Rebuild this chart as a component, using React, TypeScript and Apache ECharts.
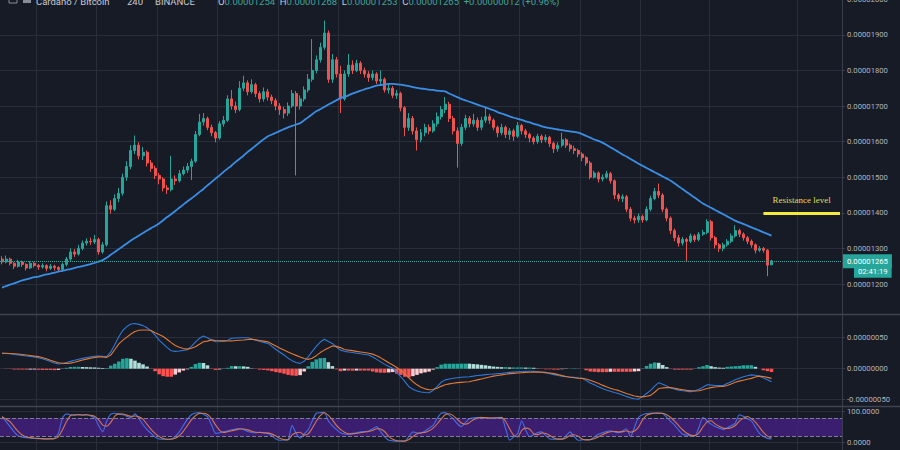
import React, { useEffect, useRef } from 'react';
import * as echarts from 'echarts';

// ---- Price data (units of 1e-8 BTC), 4h candles ----
const opens = [
  1270, 1262, 1270, 1258, 1250, 1262, 1255, 1245, 1258, 1252,
  1248, 1252, 1244, 1250, 1246, 1241, 1255, 1270, 1290, 1284,
  1300, 1315, 1320, 1318, 1325, 1290, 1310, 1420, 1410, 1440,
  1455, 1500, 1530, 1575, 1590, 1560, 1570, 1540, 1525, 1505,
  1495, 1470, 1465, 1495, 1490, 1510, 1520, 1530, 1545, 1620,
  1655, 1665, 1640, 1625, 1610, 1650, 1660, 1720, 1700, 1690,
  1750, 1765, 1740, 1760, 1735, 1720, 1740, 1725, 1715, 1700,
  1690, 1680, 1700, 1735, 1700, 1720, 1745, 1775, 1800, 1830,
  1865, 1905, 1775, 1830, 1790, 1720, 1790, 1815, 1800, 1820,
  1800, 1790, 1780, 1790, 1770, 1775, 1745, 1750, 1730, 1735,
  1695, 1640, 1665, 1630, 1605, 1625, 1640, 1630, 1650, 1670,
  1690, 1705, 1665, 1630, 1595, 1640, 1665, 1650, 1660, 1640,
  1660, 1670, 1660, 1640, 1625, 1640, 1620, 1630, 1615, 1645,
  1630, 1620, 1610, 1600, 1615, 1605, 1612, 1595, 1580, 1590,
  1605, 1590, 1580, 1575, 1565, 1555, 1540, 1500, 1512, 1495,
  1500, 1510, 1490, 1450, 1440, 1445, 1410, 1385, 1380, 1390,
  1380, 1410, 1440, 1460, 1450, 1410, 1385, 1350, 1330, 1315,
  1325, 1320, 1335, 1325, 1340, 1345, 1375, 1330, 1310, 1300,
  1310, 1320, 1335, 1350, 1340, 1330, 1320, 1310, 1295, 1300,
  1295, 1254,
];
const closes = [
  1262, 1270, 1258, 1250, 1262, 1255, 1245, 1258, 1252, 1248,
  1252, 1244, 1250, 1246, 1241, 1255, 1270, 1290, 1284, 1300,
  1315, 1320, 1318, 1325, 1290, 1310, 1420, 1410, 1440, 1455,
  1500, 1530, 1575, 1590, 1560, 1570, 1540, 1525, 1505, 1495,
  1470, 1465, 1495, 1490, 1510, 1520, 1530, 1545, 1620, 1655,
  1665, 1640, 1625, 1610, 1650, 1660, 1720, 1700, 1690, 1750,
  1765, 1740, 1760, 1735, 1720, 1740, 1725, 1715, 1700, 1690,
  1680, 1700, 1735, 1700, 1720, 1745, 1775, 1800, 1830, 1865,
  1905, 1775, 1830, 1790, 1720, 1790, 1815, 1800, 1820, 1800,
  1790, 1780, 1790, 1770, 1775, 1745, 1750, 1730, 1735, 1695,
  1640, 1665, 1630, 1605, 1625, 1640, 1630, 1650, 1670, 1690,
  1705, 1665, 1630, 1595, 1640, 1665, 1650, 1660, 1640, 1660,
  1670, 1660, 1640, 1625, 1640, 1620, 1630, 1615, 1645, 1630,
  1620, 1610, 1600, 1615, 1605, 1612, 1595, 1580, 1590, 1605,
  1590, 1580, 1575, 1565, 1555, 1540, 1500, 1512, 1495, 1500,
  1510, 1490, 1450, 1440, 1445, 1410, 1385, 1380, 1390, 1380,
  1410, 1440, 1460, 1450, 1410, 1385, 1350, 1330, 1315, 1325,
  1320, 1335, 1325, 1340, 1345, 1375, 1330, 1310, 1300, 1310,
  1320, 1335, 1350, 1340, 1330, 1320, 1310, 1295, 1300, 1295,
  1253, 1265,
];
const highs = [
  1278, 1280, 1274, 1262, 1268, 1266, 1258, 1264, 1262, 1256,
  1258, 1255, 1256, 1254, 1250, 1260, 1276, 1300, 1298, 1310,
  1322, 1328, 1330, 1338, 1330, 1318, 1432, 1435, 1452, 1470,
  1510, 1545, 1590, 1617, 1598, 1585, 1575, 1548, 1532, 1512,
  1500, 1478, 1560, 1505, 1520, 1530, 1540, 1552, 1630, 1678,
  1680, 1670, 1648, 1630, 1658, 1672, 1730, 1745, 1712, 1770,
  1785, 1772, 1775, 1765, 1742, 1752, 1748, 1732, 1722, 1708,
  1698, 1710, 1745, 1742, 1730, 1755, 1790, 1888, 1842, 1878,
  1940, 1912, 1846, 1838, 1813, 1800, 1846, 1828, 1830, 1826,
  1808, 1798, 1800, 1795, 1800, 1780, 1762, 1756, 1745, 1740,
  1700, 1680, 1672, 1640, 1635, 1650, 1648, 1660, 1682, 1700,
  1725, 1712, 1672, 1640, 1650, 1675, 1672, 1678, 1668, 1670,
  1695, 1678, 1665, 1645, 1650, 1645, 1638, 1636, 1655, 1650,
  1636, 1625, 1615, 1622, 1620, 1620, 1616, 1600, 1598, 1625,
  1610, 1595, 1588, 1580, 1570, 1560, 1546, 1518, 1516, 1508,
  1518, 1515, 1494, 1455, 1452, 1450, 1416, 1392, 1398, 1395,
  1418, 1448, 1470, 1482, 1455, 1415, 1390, 1356, 1338, 1332,
  1330, 1342, 1340, 1346, 1352, 1382, 1380, 1335, 1315, 1316,
  1326, 1342, 1365, 1355, 1345, 1335, 1325, 1314, 1306, 1304,
  1298, 1268,
];
const lows = [
  1255, 1258, 1252, 1242, 1246, 1248, 1238, 1242, 1246, 1240,
  1243, 1236, 1240, 1238, 1234, 1238, 1250, 1265, 1276, 1280,
  1295, 1308, 1310, 1312, 1282, 1285, 1305, 1398, 1405, 1430,
  1448, 1490, 1522, 1565, 1550, 1548, 1530, 1515, 1495, 1480,
  1460, 1453, 1460, 1478, 1485, 1505, 1512, 1492, 1540, 1615,
  1645, 1632, 1615, 1598, 1605, 1642, 1655, 1690, 1680, 1685,
  1742, 1730, 1735, 1725, 1710, 1712, 1715, 1705, 1688, 1675,
  1665, 1672, 1695, 1505, 1690, 1712, 1738, 1768, 1792, 1822,
  1858, 1765, 1765, 1780, 1680, 1715, 1782, 1790, 1795, 1790,
  1780, 1768, 1772, 1762, 1762, 1738, 1735, 1722, 1720, 1685,
  1615, 1630, 1620, 1575, 1598, 1615, 1620, 1625, 1642, 1662,
  1680, 1655, 1620, 1527, 1588, 1632, 1640, 1642, 1630, 1632,
  1652, 1650, 1632, 1612, 1618, 1610, 1605, 1602, 1610, 1620,
  1610, 1598, 1592, 1594, 1596, 1598, 1585, 1568, 1572, 1584,
  1582, 1572, 1565, 1556, 1545, 1532, 1494, 1496, 1485, 1488,
  1495, 1482, 1438, 1432, 1430, 1402, 1376, 1370, 1372, 1372,
  1376, 1404, 1435, 1442, 1402, 1376, 1340, 1320, 1305, 1308,
  1262, 1315, 1318, 1320, 1335, 1340, 1322, 1300, 1290, 1292,
  1305, 1315, 1330, 1332, 1322, 1312, 1302, 1286, 1290, 1288,
  1222, 1253,
];
// Blue moving average
const movingAvg = [
  1190, 1194, 1198, 1202, 1206, 1210, 1213, 1216, 1219, 1221,
  1224, 1227, 1229, 1232, 1235, 1237, 1240, 1242, 1245, 1248,
  1250, 1253, 1256, 1259, 1263, 1267, 1274, 1282, 1290, 1298,
  1306, 1314, 1322, 1329, 1336, 1343, 1350, 1357, 1363, 1370,
  1379, 1388, 1396, 1405, 1414, 1423, 1432, 1440, 1449, 1458,
  1467, 1477, 1486, 1496, 1505, 1515, 1524, 1533, 1543, 1552,
  1561, 1571, 1580, 1589, 1598, 1607, 1615, 1620, 1625, 1630,
  1635, 1640, 1644, 1648, 1652, 1660, 1668, 1677, 1685, 1691,
  1697, 1704, 1710, 1716, 1722, 1726, 1730, 1735, 1739, 1743,
  1747, 1750, 1754, 1757, 1759, 1761, 1762, 1762, 1761, 1760,
  1758, 1756, 1753, 1751, 1749, 1748, 1746, 1745, 1743, 1742,
  1741, 1735, 1730, 1725, 1720, 1716, 1712, 1708, 1704, 1700,
  1696, 1692, 1688, 1683, 1679, 1675, 1671, 1667, 1664, 1661,
  1657, 1654, 1650, 1647, 1643, 1640, 1638, 1636, 1634, 1632,
  1630, 1629, 1627, 1625, 1621, 1616, 1611, 1606, 1602, 1597,
  1591, 1584, 1578, 1571, 1564, 1558, 1551, 1545, 1538, 1532,
  1526, 1520, 1514, 1508, 1502, 1496, 1490, 1482, 1474, 1466,
  1458, 1450, 1442, 1434, 1426, 1420, 1414, 1408, 1402, 1396,
  1390, 1384, 1378, 1373, 1369, 1364, 1359, 1355, 1350, 1345,
  1341, 1336,
];
// MACD (units of 1e-8)
const macdLine = [
  25, 24.5, 24, 23, 22.3, 21.5, 20.6, 19.8, 19, 17.8,
  16, 14, 11.5, 9.2, 7.6, 8.5, 10, 11.8, 13.5, 15.2,
  16.7, 18, 19.2, 20.2, 20.5, 19.9, 19.4, 27, 39, 51.6,
  62, 68, 72, 73, 71.5, 69.5, 66, 61, 54, 46,
  40, 34, 29, 28, 28.5, 29.5, 30.6, 36, 43, 49,
  52.7, 50, 46, 43.5, 43.8, 44.5, 46, 49, 49.5, 50,
  50, 50, 48, 46, 44, 42.5, 40.8, 36, 31, 26.5,
  22, 17, 13, 10, 8.6, 12, 19, 28, 36, 43,
  47.4, 44, 40.8, 35, 30, 28, 27, 26, 25, 24,
  23, 22, 19, 15, 11, 7, 3.5, 0.6, -6, -13,
  -21, -29, -33, -36, -37.5, -38.5, -38.7, -35, -29, -22,
  -18, -16.5, -15.5, -14.5, -13.8, -13.3, -12.9, -12, -11, -10.3,
  -9.5, -9, -8.5, -8, -7.5, -6.5, -6, -5.5, -5, -4.5,
  -4.2, -4, -4, -5, -6, -7, -8, -9.5, -11, -12,
  -13, -13.5, -14, -15, -15.6, -19, -23, -26, -29, -32,
  -34.5, -36.5, -38.5, -40, -42.5, -45, -47, -48.5, -49, -45,
  -40, -35, -28, -22.5, -25, -28, -31, -33, -34.5, -35.5,
  -36.5, -37, -35.5, -33, -30, -26, -26.5, -27, -27, -27,
  -24, -21, -18, -15.5, -13, -11.5, -10, -10.5, -12, -15,
  -18, -21,
];
const signalLine = [
  25, 24.8, 24.6, 24.2, 23.6, 22.9, 22.1, 21.2, 20.3, 19.5,
  18, 16, 13.5, 11.5, 9.5, 8.8, 8.6, 9, 10.5, 12.2,
  14, 15.5, 17, 18.2, 19, 18.8, 18.3, 22, 31, 40,
  46, 51, 56, 60, 62, 62.5, 62.5, 61.5, 58, 55,
  52, 47, 42, 37.5, 34.5, 32.5, 31.6, 33, 35.5, 39.5,
  43.5, 44.5, 46.5, 45.5, 45, 44.8, 44.6, 44.8, 45.5, 46,
  46.3, 47, 47.5, 46.5, 45.5, 44.5, 43.5, 40, 36.5, 33,
  30, 27, 24, 21.5, 19, 16.5, 15, 17, 21, 26,
  30, 33.5, 36.6, 36, 34, 31, 30, 29.2, 28, 27,
  26, 25, 23.5, 21, 17.5, 13.5, 9.5, 6, 2, -3,
  -8, -15, -21, -26, -30, -32.5, -34, -33.5, -31.5, -28.5,
  -26, -24.5, -23.5, -22.5, -22, -21.5, -21, -19.5, -18, -16.5,
  -15, -13.5, -12, -11, -10, -9, -8, -7.5, -7, -6.5,
  -6, -5.8, -5.5, -5.4, -5.6, -6, -7, -8, -9.5, -11.2,
  -12.5, -13.8, -14.6, -15.2, -15.6, -16.5, -18.5, -21, -23.5, -26.5,
  -29, -31.5, -33.5, -35, -37.5, -40, -42, -44, -45, -45.5,
  -44.5, -43, -38, -32, -31, -30.5, -30.5, -31.5, -33, -34,
  -35, -35.5, -36, -35.5, -34, -32, -30.5, -29.5, -28.8, -28.5,
  -27, -24.5, -22, -20, -18.5, -17, -15.6, -13.5, -12, -12.5,
  -14, -15.6,
];
// Stochastic %K
const stochK = [
  84, 68, 52, 35, 22, 18, 16, 15, 14, 13,
  12, 12, 13, 14, 30, 80, 93, 90, 88, 91,
  89, 90, 86, 80, 55, 35, 70, 92, 95, 92,
  90, 85, 80, 93, 77, 58, 42, 30, 18, 12,
  11, 11, 12, 20, 35, 55, 75, 90, 96, 97,
  92, 84, 58, 30, 32, 36, 38, 42, 44, 46,
  42, 36, 33, 32, 34, 31, 30, 22, 12, 8,
  9, 10, 56, 30, 15, 28, 42, 70, 95, 97,
  98, 70, 55, 42, 32, 28, 27, 30, 32, 35,
  36, 38, 45, 52, 35, 19, 8, 6, 5, 5,
  5, 20, 35, 32, 30, 38, 47, 56, 78, 95,
  97, 88, 77, 62, 52, 65, 77, 80, 81, 82,
  80, 78, 80, 81, 82, 45, 8, 18, 30, 71,
  40, 19, 26, 33, 35, 22, 12, 11, 12, 12,
  22, 35, 20, 8, 9, 10, 10, 18, 27, 32,
  36, 38, 35, 32, 38, 45, 19, 50, 82, 90,
  94, 95, 96, 95, 94, 82, 68, 56, 40, 27,
  24, 22, 22, 50, 82, 70, 60, 52, 47, 42,
  48, 55, 63, 90, 85, 78, 70, 50, 30, 20,
  14, 12,
];
const timeGridIdx = [9, 24, 39, 54, 69, 84, 99, 114, 129, 144, 159, 176, 198];
const totalSlots = 209;
const lastPrice = 1265;
const countdown = '02:41:19';
const resistanceLevel = 1400;
const resistanceFrom = 189;
const resistanceTo = 208;
const headerName = 'Cardano / Bitcoin';
const headerInterval = '240';
const headerExchange = 'BINANCE';
const headerO = 1254;
const headerH = 1268;
const headerL = 1253;
const headerC = 1265;
const headerChange = 12;
const headerChangePct = 0.96;

const BG = '#171b26';
const GRID = '#2a2e3a';
const AXIS = '#3a3e4a';
const LABEL = '#b2b5be';
const UP = '#26a69a';
const DOWN = '#ef5350';
const FONT = 'Roboto';
const FS = 7.7;

const fmt8 = (v: number) => (v / 1e8).toFixed(8);

export default function App() {
  const ref = useRef<HTMLDivElement>(null);
  useEffect(() => {
    if (!ref.current) return;
    const chart = echarts.init(ref.current, undefined, { renderer: 'svg' });
    const slots = Array.from({ length: totalSlots }, (_, i) => String(i));
    const candles = opens.map((o, i) => [o, closes[i], lows[i], highs[i]]);
    const hist = macdLine.map((m, i) => +(m - signalLine[i]).toFixed(2));
    const histData = hist.map((h, i) => {
      const prev = i > 0 ? hist[i - 1] : h;
      let color;
      if (h >= 0) color = h >= prev ? '#26a69a' : '#b2dfdb';
      else color = h <= prev ? '#ff5252' : '#ffcdd2';
      return { value: h, itemStyle: { color } };
    });
    const stochD = stochK.map((_, i) => {
      const s = stochK.slice(Math.max(0, i - 2), i + 1);
      return +(s.reduce((a, b) => a + b, 0) / s.length).toFixed(2);
    });

    const xAxisBase = (gridIndex: number) => ({
      type: 'category',
      gridIndex,
      data: slots,
      boundaryGap: true,
      axisLine: { show: false },
      axisTick: { show: false },
      axisLabel: { show: false },
      splitLine: {
        show: true,
        interval: (index: number) => timeGridIdx.includes(index),
        lineStyle: { color: GRID, width: 1 },
      },
    });
    const yAxisBase = (gridIndex: number, min: number, max: number, interval: number, formatter: (v: number) => string) => ({
      type: 'value',
      gridIndex,
      position: 'right',
      min,
      max,
      interval,
      scale: false,
      axisLine: { show: true, lineStyle: { color: AXIS } },
      axisTick: { show: true, length: 3, lineStyle: { color: AXIS } },
      axisLabel: {
        color: LABEL,
        fontSize: FS,
        fontFamily: FONT,
        margin: 5,
        showMinLabel: false,
        showMaxLabel: false,
        formatter,
      },
      splitLine: {
        show: true,
        showMinLine: false,
        showMaxLine: false,
        lineStyle: { color: GRID, width: 1 },
      },
    });

    const option: any = {
      animation: false,
      backgroundColor: BG,
      grid: [
        { left: 0, right: 58, top: -36.4, height: 356, outerBoundsMode: 'none', containLabel: false },
        { left: 0, right: 58, top: 306.7, height: 124, outerBoundsMode: 'none', containLabel: false },
        { left: 0, right: 58, top: 380.7, height: 93, outerBoundsMode: 'none', containLabel: false },
      ],
      xAxis: [xAxisBase(0), xAxisBase(1), xAxisBase(2)],
      yAxis: [
        yAxisBase(0, 1100, 2100, 100, fmt8),
        yAxisBase(1, -100, 100, 50, fmt8),
        yAxisBase(2, -100, 200, 100, (v: number) => v.toFixed(4)),
      ],
      series: [
        {
          type: 'candlestick',
          xAxisIndex: 0,
          yAxisIndex: 0,
          data: candles,
          barWidth: '62%',
          itemStyle: { color: UP, color0: DOWN, borderColor: UP, borderColor0: DOWN, borderWidth: 1 },
          markLine: {
            silent: true,
            symbol: ['none', 'none'],
            animation: false,
            data: [
              {
                yAxis: lastPrice,
                lineStyle: { color: UP, type: 'dotted', width: 1 },
                label: {
                  show: true,
                  position: 'end',
                  distance: 1,
                  formatter: `{s|}\n{p|${fmt8(lastPrice)}}\n{sp|}{t|${countdown}}`,
                  rich: {
                    s: { height: 13, lineHeight: 13 },
                    p: {
                      backgroundColor: UP, color: '#ffffff', fontSize: FS, fontFamily: FONT,
                      padding: [3, 4, 3, 4], lineHeight: 8,
                    },
                    sp: { width: 11 },
                    t: {
                      backgroundColor: UP, color: '#ffffff', fontSize: FS, fontFamily: FONT,
                      padding: [2.5, 4, 2.5, 4], lineHeight: 8,
                    },
                  },
                },
              },
              [
                {
                  coord: [resistanceFrom, resistanceLevel],
                  lineStyle: { color: '#f3ec3c', width: 3, type: 'solid' },
                  label: {
                    show: true,
                    position: 'insideMiddleTop',
                    distance: 8,
                    formatter: 'Resistance level',
                    color: '#e3da58',
                    fontFamily: 'Liberation Serif',
                    fontSize: 9,
                  },
                },
                { coord: [resistanceTo, resistanceLevel] },
              ],
            ],
          },
        },
        {
          type: 'line',
          xAxisIndex: 0,
          yAxisIndex: 0,
          data: movingAvg,
          showSymbol: false,
          smooth: 0.3,
          lineStyle: { color: '#3a8ee6', width: 1.8 },
          z: 3,
        },
        {
          type: 'bar',
          xAxisIndex: 1,
          yAxisIndex: 1,
          data: histData,
          barCategoryGap: '12%',
        },
        {
          type: 'line',
          xAxisIndex: 1,
          yAxisIndex: 1,
          data: macdLine,
          showSymbol: false,
          lineStyle: { color: '#2f78d6', width: 1.1 },
          z: 3,
        },
        {
          type: 'line',
          xAxisIndex: 1,
          yAxisIndex: 1,
          data: signalLine,
          showSymbol: false,
          lineStyle: { color: '#e07a36', width: 1.1 },
          z: 3,
        },
        {
          type: 'line',
          xAxisIndex: 2,
          yAxisIndex: 2,
          data: [],
          z: 1,
          markArea: {
            silent: true,
            itemStyle: { color: 'rgba(71,31,135,0.78)' },
            data: [[{ yAxis: 20 }, { yAxis: 80 }]],
          },
          markLine: {
            silent: true,
            symbol: ['none', 'none'],
            label: { show: false },
            lineStyle: { color: '#817a99', type: 'dashed', width: 1 },
            data: [{ yAxis: 80 }, { yAxis: 20 }],
          },
        },
        {
          type: 'line',
          xAxisIndex: 2,
          yAxisIndex: 2,
          data: stochK,
          showSymbol: false,
          smooth: 0.2,
          lineStyle: { color: '#3f6fe6', width: 1.1 },
          z: 4,
        },
        {
          type: 'line',
          xAxisIndex: 2,
          yAxisIndex: 2,
          data: stochD,
          showSymbol: false,
          smooth: 0.2,
          lineStyle: { color: '#e0804f', width: 1.1, opacity: 0.9 },
          z: 4,
        },
      ],
      graphic: [
        { type: 'line', z: 20, shape: { x1: 0, y1: 314.5, x2: 900, y2: 314.5 }, style: { stroke: '#3f434e', lineWidth: 1.5 } },
        { type: 'line', z: 20, shape: { x1: 0, y1: 406.5, x2: 900, y2: 406.5 }, style: { stroke: '#3f434e', lineWidth: 1.5 } },
        { type: 'text', z: 20, x: 36, y: 6, style: { text: headerName, fill: '#c8cbd3', fontSize: 9.5, fontFamily: FONT, verticalAlign: 'bottom' } },
        { type: 'text', z: 20, x: 127, y: 6, style: { text: headerInterval, fill: '#c8cbd3', fontSize: 9.5, fontFamily: FONT, verticalAlign: 'bottom' } },
        { type: 'text', z: 20, x: 155, y: 6, style: { text: headerExchange, fill: '#c8cbd3', fontSize: 9.5, fontFamily: FONT, verticalAlign: 'bottom' } },
        {
          type: 'text', z: 20, x: 218, y: 6,
          style: {
            text: `{l|O}{v|${fmt8(headerO)}}  {l|H}{v|${fmt8(headerH)}}  {l|L}{v|${fmt8(headerL)}}  {l|C}{v|${fmt8(headerC)}}  {v|+${fmt8(headerChange)} (+${headerChangePct.toFixed(2)}%)}`,
            fontSize: 9.5, fontFamily: FONT, verticalAlign: 'bottom', fill: '#c8cbd3',
            rich: {
              l: { fill: '#c8cbd3', fontSize: 9.5, fontFamily: FONT },
              v: { fill: '#3fa597', fontSize: 9.5, fontFamily: FONT },
            },
          },
        },
        { type: 'rect', z: 20, shape: { x: 9, y: -6, width: 8, height: 9 }, style: { fill: 'none', stroke: '#8a8d96', lineWidth: 1 } },
        { type: 'rect', z: 20, shape: { x: 23, y: -6, width: 8, height: 9 }, style: { fill: '#8a8d96' } },
      ],
    };
    chart.setOption(option);
    return () => chart.dispose();
  }, []);
  return <div ref={ref} style={{ position: 'fixed', left: 0, top: 0, width: 900, height: 450 }} />;
}
